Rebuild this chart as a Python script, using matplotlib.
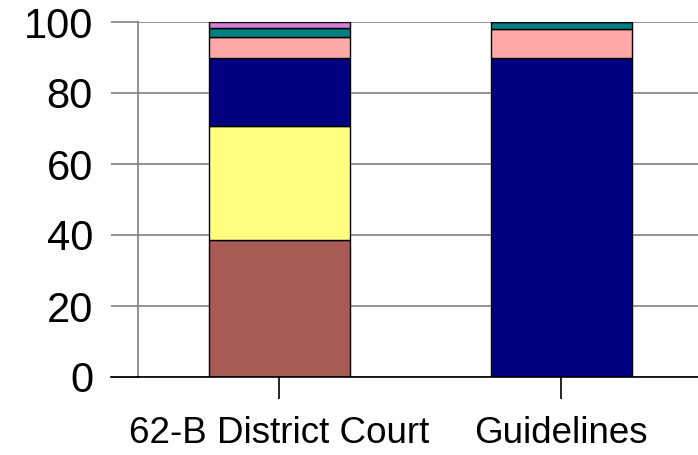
import matplotlib
matplotlib.use("Agg")
import matplotlib.pyplot as plt
from matplotlib.lines import Line2D

plt.rcParams['font.family'] = ['Liberation Sans', 'DejaVu Sans']

categories = ["62-B District Court", "Guidelines"]
seg_brown = [38.6, 0.0]
seg_yellow = [32.1, 0.0]
seg_navy = [19.1, 90.0]
seg_pink = [5.9, 8.0]
seg_teal = [2.5, 2.0]
seg_purple = [1.8, 0.0]
yticks = [0, 20, 40, 60, 80, 100]

series = [seg_brown, seg_yellow, seg_navy, seg_pink, seg_teal, seg_purple]
colors = ["#A95C55", "#FFFF80", "#000080", "#FFA8A8", "#008080", "#D47ED4"]

W, H = 698, 455
fig = plt.figure(figsize=(W / 100, H / 100), dpi=100)
x0, x1 = 138, 702
yb, yt = 377, 22
ax = fig.add_axes([x0 / W, (H - yb) / H, (x1 - x0) / W, (yb - yt) / H])

xs = list(range(len(categories)))
bottom = [0.0] * len(categories)
for vals, c in zip(series, colors):
    ax.bar(xs, vals, width=0.5, bottom=bottom, color=c, edgecolor="black",
           linewidth=1.0, zorder=3)
    bottom = [b + v for b, v in zip(bottom, vals)]

ax.set_xlim(-0.5, 1.5)
ax.set_ylim(0, 100)
ax.set_yticks(yticks)
ax.set_xticks(xs)
ax.set_xticklabels(categories)
ax.yaxis.grid(True, color="#808080", linewidth=1.2, zorder=0)
ax.set_axisbelow(True)

for s in ["top", "right"]:
    ax.spines[s].set_visible(False)
ax.spines["left"].set_color("#808080")
ax.spines["left"].set_linewidth(1.2)
ax.spines["bottom"].set_color("black")
ax.spines["bottom"].set_linewidth(1.2)
ax.spines["bottom"].set_zorder(4)

ax.tick_params(axis="y", direction="out", length=19.4, width=1.2, color="#808080",
               labelsize=30, pad=13)
ax.tick_params(axis="x", direction="out", length=15.8, width=1.2, color="black",
               labelsize=26.5, pad=12.5)

ax.add_line(Line2D([-27 / (x1 - x0), 0], [0, 0], transform=ax.transAxes,
                   color="black", linewidth=1.2, clip_on=False, zorder=5))

fig.savefig("out.png", dpi=100)
